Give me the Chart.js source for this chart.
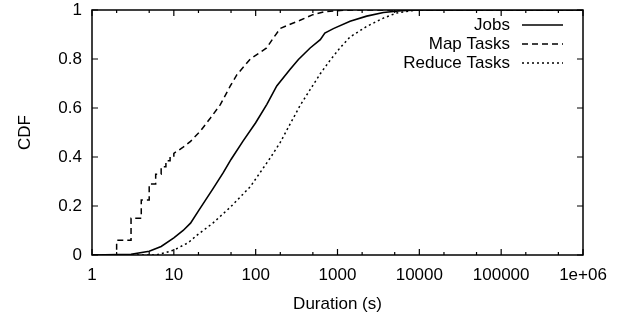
<!DOCTYPE html>
<html>
<head>
<meta charset="utf-8">
<script src="https://cdn.jsdelivr.net/npm/chart.js@4.4.1/dist/chart.umd.min.js"></script>
<style>
  html, body { margin: 0; padding: 0; background: #fff; }
  canvas { display: block; }
</style>
</head>
<body>
<canvas id="mycanvas" width="623" height="320"></canvas>
<script>
// durations (s) and CDF values
var jobsX = [1, 3, 5, 7, 10, 13, 16, 20, 30, 40, 50, 70, 100, 137, 181, 264, 333, 463, 616, 700, 890, 1425, 2275, 3640, 6000, 10000, 1e6];
var jobsY = [0, 0.003, 0.015, 0.035, 0.07, 0.1, 0.13, 0.18, 0.27, 0.335, 0.39, 0.465, 0.54, 0.615, 0.69, 0.758, 0.798, 0.845, 0.879, 0.906, 0.924, 0.954, 0.975, 0.99, 0.997, 1, 1];

var mapX = [1, 2, 2, 3, 3, 4, 4, 5, 5, 6, 6, 7, 7, 8, 8, 9, 9, 10, 10, 13, 16, 21, 28, 37, 49, 59, 86, 136, 164, 200, 264, 349, 500, 700, 1200, 2000, 1e6];
var mapY = [0, 0, 0.06, 0.06, 0.15, 0.15, 0.225, 0.225, 0.29, 0.29, 0.33, 0.33, 0.36, 0.36, 0.385, 0.385, 0.4, 0.4, 0.415, 0.44, 0.464, 0.505, 0.559, 0.614, 0.69, 0.736, 0.8, 0.845, 0.885, 0.925, 0.942, 0.958, 0.981, 0.993, 0.999, 1, 1];

var reduceX = [1, 6, 8, 10, 15, 19, 30, 49, 86, 150, 200, 264, 349, 463, 616, 813, 1070, 1425, 2275, 3640, 5300, 8000, 10000, 1e6];
var reduceY = [0, 0, 0.01, 0.02, 0.05, 0.08, 0.13, 0.195, 0.279, 0.395, 0.46, 0.535, 0.61, 0.675, 0.74, 0.795, 0.845, 0.89, 0.933, 0.967, 0.988, 0.997, 1, 1];

var seriesNames = ['Jobs', 'Map Tasks', 'Reduce Tasks'];
var xTicks = [1, 10, 100, 1000, 10000, 100000, 1000000];
var xTickLabels = ['1', '10', '100', '1000', '10000', '100000', '1e+06'];
var xMinorMult = [2, 5];
var yTicks = [0, 0.2, 0.4, 0.6, 0.8, 1];
var yTickLabels = ['0', '0.2', '0.4', '0.6', '0.8', '1'];

var FONT = 'Liberation Sans, Arial, Helvetica, sans-serif';
var FSIZE = 17;

function pts(xs, ys) {
	var out = [];
	for (var i = 0; i < xs.length; i++) out.push({x: xs[i], y: ys[i]});
	return out;
}

// gnuplot style frame: border, inward ticks and the key in the top right
var framePlugin = {
	id: 'frame',
	afterDatasetsDraw: function(chart) {
		var ctx = chart.ctx, a = chart.chartArea;
		var xs = chart.scales.x, ys = chart.scales.y;
		ctx.save();
		ctx.strokeStyle = '#000';
		ctx.lineWidth = 1.2;
		ctx.beginPath();
		xTicks.forEach(function(v) {
			var px = xs.getPixelForValue(v);
			ctx.moveTo(px, a.bottom); ctx.lineTo(px, a.bottom - 6);
			ctx.moveTo(px, a.top); ctx.lineTo(px, a.top + 6);
			if (v < 1e6) {
				xMinorMult.forEach(function(m) {
					var p2 = xs.getPixelForValue(v * m);
					ctx.moveTo(p2, a.bottom); ctx.lineTo(p2, a.bottom - 3);
					ctx.moveTo(p2, a.top); ctx.lineTo(p2, a.top + 3);
				});
			}
		});
		yTicks.forEach(function(v) {
			var py = ys.getPixelForValue(v);
			ctx.moveTo(a.left, py); ctx.lineTo(a.left + 6, py);
			ctx.moveTo(a.right, py); ctx.lineTo(a.right - 6, py);
		});
		ctx.stroke();
		ctx.lineWidth = 1.5;
		ctx.strokeRect(a.left, a.top, a.right - a.left, a.bottom - a.top);

		// key
		ctx.font = FSIZE + 'px ' + FONT;
		ctx.fillStyle = '#000';
		ctx.textAlign = 'right';
		ctx.textBaseline = 'middle';
		chart.data.datasets.forEach(function(ds, i) {
			var y = a.top + 15 + i * 19;
			ctx.fillText(ds.label, a.right - 73, y);
			ctx.beginPath();
			ctx.setLineDash(ds.borderDash || []);
			ctx.lineWidth = ds.borderWidth;
			ctx.moveTo(a.right - 61, y);
			ctx.lineTo(a.right - 20, y);
			ctx.stroke();
		});
		ctx.restore();
	}
};

var chartdata = {
	datasets: [
	{
		label: seriesNames[0],
		data: pts(jobsX, jobsY),
		borderColor: '#000',
		borderWidth: 1.6,
		borderDash: []
	},
	{
		label: seriesNames[1],
		data: pts(mapX, mapY),
		borderColor: '#000',
		borderWidth: 1.5,
		borderDash: [6, 4]
	},
	{
		label: seriesNames[2],
		data: pts(reduceX, reduceY),
		borderColor: '#000',
		borderWidth: 1.5,
		borderDash: [2, 3]
	}
	]
};

var ctx = document.getElementById('mycanvas');
var cdfChart = new Chart(ctx, {
	type: 'line',
	data: chartdata,
	plugins: [framePlugin],
	options: {
		responsive: false,
		animation: false,
		events: [],
		layout: { padding: { top: 10, right: 40, left: 0, bottom: 0 } },
		elements: { point: { radius: 0 }, line: { tension: 0, fill: false } },
		plugins: { legend: { display: false }, tooltip: { enabled: false } },
		scales: {
			x: {
				type: 'logarithmic',
				min: 1,
				max: 1e6,
				afterBuildTicks: function(scale) {
					scale.ticks = xTicks.map(function(v) { return {value: v}; });
				},
				afterFit: function(scale) { scale.height = 65; },
				grid: { display: false, drawTicks: false },
				border: { display: false },
				ticks: {
					color: '#000',
					font: { family: FONT, size: FSIZE },
					padding: 10,
					maxRotation: 0,
					autoSkip: false,
					callback: function(v, i) { return xTickLabels[i]; }
				},
				title: {
					display: true,
					text: 'Duration (s)',
					color: '#000',
					font: { family: FONT, size: FSIZE },
					padding: { top: 0, bottom: 5 }
				}
			},
			y: {
				type: 'linear',
				min: 0,
				max: 1,
				afterBuildTicks: function(scale) {
					scale.ticks = yTicks.map(function(v) { return {value: v}; });
				},
				afterFit: function(scale) {
					scale.width = 92;
					scale.paddingTop = 0;
					scale.paddingBottom = 0;
				},
				grid: { display: false, drawTicks: false },
				border: { display: false },
				ticks: {
					color: '#000',
					font: { family: FONT, size: FSIZE },
					padding: 10,
					callback: function(v, i) { return yTickLabels[i]; }
				},
				title: {
					display: true,
					text: 'CDF',
					color: '#000',
					font: { family: FONT, size: FSIZE },
					padding: { top: 15, bottom: 0 }
				}
			}
		}
	}
});
</script>
</body>
</html>
